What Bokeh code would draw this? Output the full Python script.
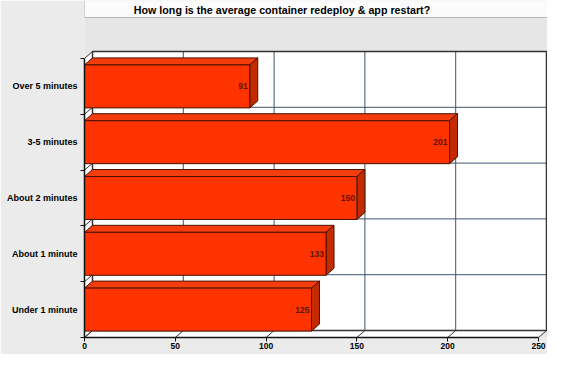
from bokeh.plotting import figure
from bokeh.models import Range1d, LinearAxis, FixedTicker, ColumnDataSource
from bokeh.core.properties import value
from bokeh.embed import file_html
from bokeh.resources import INLINE

# ---- data ----
title = "How long is the average container redeploy & app restart?"
categories = ["Under 1 minute", "About 1 minute", "About 2 minutes", "3-5 minutes", "Over 5 minutes"]
counts = [125, 133, 150, 201, 91]
x_ticks = [0, 50, 100, 150, 200, 250]

# ---- layout constants ----
W, H = 547, 354
LEFT, BOTTOM = 84, 17
X_MAX = 250
PX_X = 1.816          # pixels per unit on x
FRONT_TOP_PX = 58
DEPTH_X, DEPTH_Y = 8, 7
BAR_FRAC = 0.77
FONT = value("Liberation Sans")

frame_w = W - LEFT
frame_h = H - BOTTOM
n = len(categories)
BAND_PX = (frame_h - FRONT_TOP_PX) / n
dx = DEPTH_X / PX_X
dy = DEPTH_Y / BAND_PX
y0, y1 = 0.5, n + 0.5
y_top = y0 + frame_h / BAND_PX
x_end = frame_w / PX_X

def ypx(py):
    return y_top - py / BAND_PX

def xpx(px):
    return (px - LEFT) / PX_X

p = figure(width=W, height=H, output_backend="svg", toolbar_location=None,
           x_range=Range1d(0, x_end), y_range=Range1d(y0, y_top),
           min_border_left=LEFT, min_border_right=0, min_border_top=0,
           min_border_bottom=BOTTOM, x_axis_type=None, y_axis_type=None)
p.outline_line_color = None
p.background_fill_color = "#e6e6e6"
p.border_fill_color = "#ebebeb"

# title box
p.quad(left=[0], right=[x_end], bottom=[ypx(17)], top=[y_top + 1],
       fill_color="#fbfbfb", line_color="#b8b8b8", line_width=1)
p.text(x=[xpx(281.5)], y=[ypx(9.5)], text=[title], text_align="center",
       text_baseline="middle", text_font=FONT, text_font_style="bold",
       text_font_size="10.7px", text_color="#000000")

# walls
p.patch([0, dx, dx, 0], [y0, y0 + dy, y1 + dy, y1], fill_color="white", line_color=None)
p.patch([0, X_MAX, X_MAX + dx, dx], [y0, y0, y0 + dy, y0 + dy], fill_color="white", line_color=None)
p.quad(left=[dx], right=[X_MAX + dx], bottom=[y0 + dy], top=[y1 + dy],
       fill_color="white", line_color=None)

# back grid lines
grid_col = "#3d5470"
inner_x = [t for t in x_ticks if 0 < t < X_MAX]
p.segment(x0=[t + dx for t in inner_x], y0=[y0 + dy] * len(inner_x),
          x1=[t + dx for t in inner_x], y1=[y1 + dy] * len(inner_x),
          line_color=grid_col, line_width=1)
bounds = [y0 + i for i in range(n + 1)]
inner_b = bounds[1:-1]
p.segment(x0=[dx] * len(inner_b), y0=[b + dy for b in inner_b],
          x1=[X_MAX + dx] * len(inner_b), y1=[b + dy for b in inner_b],
          line_color=grid_col, line_width=1)
# back wall border
p.quad(left=[dx], right=[X_MAX + dx], bottom=[y0 + dy], top=[y1 + dy],
       fill_color=None, line_color="#333333", line_width=1.5)
# floor slants
p.segment(x0=x_ticks, y0=[y0] * len(x_ticks), x1=[t + dx for t in x_ticks],
          y1=[y0 + dy] * len(x_ticks), line_color="#333333", line_width=1)
# left wall slants
p.segment(x0=[0] * len(bounds), y0=bounds, x1=[dx] * len(bounds),
          y1=[b + dy for b in bounds], line_color="#333333", line_width=1)

# bars
centers = [i + 1 for i in range(n)]
h = BAR_FRAC / 2
src = ColumnDataSource(dict(
    left=[0] * n, right=counts,
    bottom=[c - h for c in centers], top=[c + h for c in centers],
    y=centers, label=[str(v) for v in counts],
    top_xs=[[0, v, v + dx, dx] for v in counts],
    top_ys=[[c + h, c + h, c + h + dy, c + h + dy] for c in centers],
    side_xs=[[v, v + dx, v + dx, v] for v in counts],
    side_ys=[[c - h, c - h + dy, c + h + dy, c + h] for c in centers],
))
edge = "#4a1200"
p.patches(xs="top_xs", ys="top_ys", source=src, fill_color="#f53c0c",
          line_color=edge, line_width=1)
p.patches(xs="side_xs", ys="side_ys", source=src, fill_color="#c42a00",
          line_color=edge, line_width=1)
p.quad(left="left", right="right", bottom="bottom", top="top", source=src,
       fill_color="#ff3300", line_color=edge, line_width=1)
p.text(x="right", y="y", text="label", source=src, text_align="right",
       text_baseline="middle", x_offset=-2, text_font=FONT, text_font_style="bold",
       text_font_size="8.5px", text_color="#5c1406")

# axes
xaxis = LinearAxis(ticker=FixedTicker(ticks=x_ticks), bounds=(0, X_MAX))
xaxis.major_tick_in = 0
xaxis.major_tick_out = 4
xaxis.minor_tick_out = 0
xaxis.axis_line_color = "#111111"
xaxis.axis_line_width = 1.5
xaxis.major_tick_line_color = "#111111"
xaxis.major_label_standoff = 1
xaxis.major_label_text_font = "Liberation Sans"
xaxis.major_label_text_font_style = "bold"
xaxis.major_label_text_font_size = "8.5px"
xaxis.major_label_text_color = "#000000"
p.add_layout(xaxis, "below")

yaxis = LinearAxis(ticker=FixedTicker(ticks=centers, minor_ticks=bounds), bounds=(y0, y1),
                   major_label_overrides={c: cat for c, cat in zip(centers, categories)})
yaxis.major_tick_in = 0
yaxis.major_tick_out = 0
yaxis.minor_tick_in = 0
yaxis.minor_tick_out = 4
yaxis.minor_tick_line_color = "#111111"
yaxis.axis_line_color = "#111111"
yaxis.axis_line_width = 1.5
yaxis.major_label_standoff = 3
yaxis.major_label_text_font = "Liberation Sans"
yaxis.major_label_text_font_style = "bold"
yaxis.major_label_text_font_size = "9px"
yaxis.major_label_text_color = "#000000"
p.add_layout(yaxis, "left")

open("out.html", "w").write(file_html(p, INLINE))
